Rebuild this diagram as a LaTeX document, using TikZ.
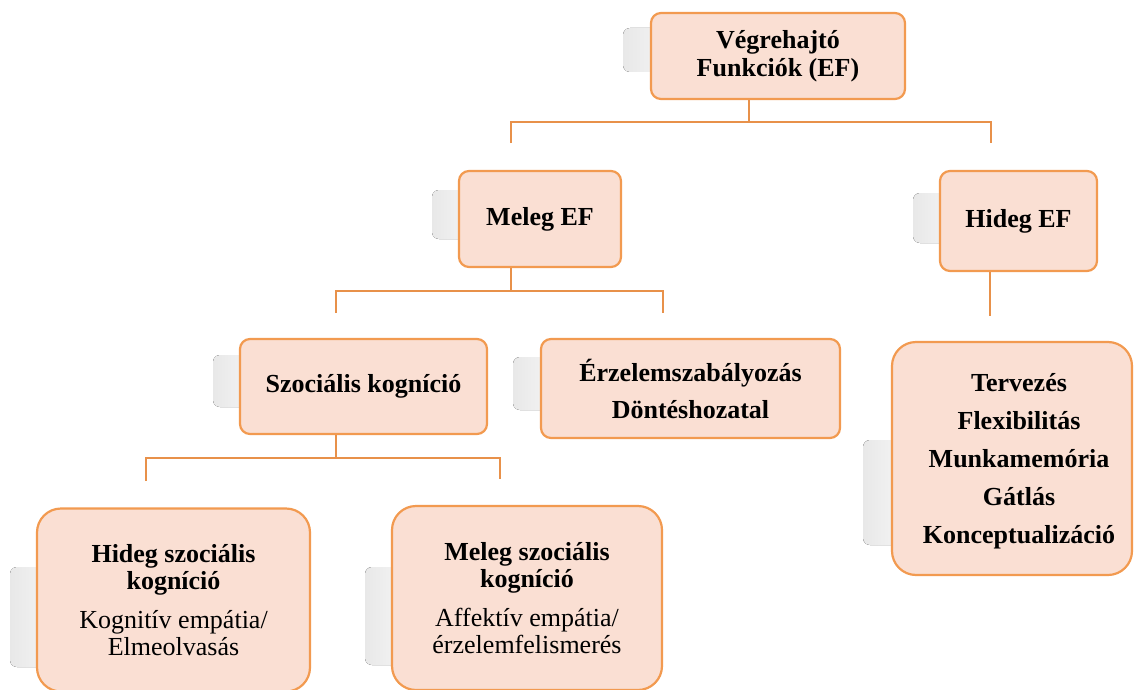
\documentclass[tikz,border=0pt]{standalone}
\usepackage{fontspec}
\setmainfont{Liberation Serif}
\definecolor{boxfill}{HTML}{FADFD3}
\definecolor{boxline}{HTML}{F29A50}
\definecolor{connc}{HTML}{E8914A}
\begin{document}
\begin{tikzpicture}[x=1pt,y=-1pt,
  box/.style={draw=boxline, line width=2.2pt, fill=boxfill, rounded corners=10pt,
    align=center, inner sep=0pt, font=\bfseries\fontsize{26}{29}\selectfont},
  bigbox/.style={box, rounded corners=24pt},
  ghost/.style={left color=black!9, right color=black!1, rounded corners=7pt},
  conn/.style={draw=connc, line width=2.6pt}]
\useasboundingbox (0,0) rectangle (1134,690);
\clip (0,0) rectangle (1134,690);

% ghost reflections
\fill[ghost] (623,28) rectangle (700,72);
\fill[ghost] (432,190) rectangle (500,239);
\fill[ghost] (913,193) rectangle (980,243);
\fill[ghost] (213,355) rectangle (280,407);
\fill[ghost] (513,357) rectangle (580,410);
\fill[ghost] (863,440) rectangle (930,545);
\fill[ghost] (10,567) rectangle (80,667);
\fill[ghost] (365,567) rectangle (430,665);

% boxes
\node[box, minimum width=254pt, minimum height=86pt, font=\bfseries\fontsize{26}{28}\selectfont]
  (top) at (778,56) {Végrehajtó\\Funkciók (EF)};
\node[box, minimum width=162pt, minimum height=96pt] (meleg) at (540,219) {Meleg EF};
\node[box, minimum width=157pt, minimum height=100pt] (hideg) at (1018.5,221) {Hideg EF};
\node[box, minimum width=247pt, minimum height=95pt] (szoc) at (363.5,386.5) {Szociális kogníció};
\node[box, minimum width=299pt, minimum height=99pt, font=\bfseries\fontsize{26}{37}\selectfont]
  (erz) at (690.5,388.5) {Érzelemszabályozás\\Döntéshozatal};
\node[bigbox, minimum width=240pt, minimum height=233pt] (hlist) at (1012,458.5) {};
\node[align=center, inner sep=0pt, font=\bfseries\fontsize{26}{38}\selectfont]
  (hlisttext) at (1019,461) {Tervezés\\Flexibilitás\\Munkamemória\\Gátlás\\Konceptualizáció};
\node[bigbox, minimum width=273pt, minimum height=183pt, font=\fontsize{26}{26.5}\selectfont]
  (hszoc) at (173.5,600) {\textbf{Hideg szociális}\\\textbf{kogníció}\\[13pt]\textmd{Kognitív empátia/}\\\textmd{Elmeolvasás}};
\node[bigbox, minimum width=270pt, minimum height=184pt, font=\fontsize{26}{26.5}\selectfont]
  (mszoc) at (527,598) {\textbf{Meleg szociális}\\\textbf{kogníció}\\[13pt]\textmd{Affektív empátia/}\\\textmd{érzelemfelismerés}};

% connectors
\coordinate (j1) at (749,122);
\coordinate (d1) at (511,143);
\coordinate (d2) at (991,143);
\draw[conn] (j1 |- top.south) -- (j1);
\draw[conn] (d1) |- (j1) -| (d2);

\coordinate (j2) at (511,291);
\coordinate (d3) at (336,313);
\coordinate (d4) at (663,313);
\draw[conn] (j2 |- meleg.south) -- (j2);
\draw[conn] (d3) |- (j2) -| (d4);

\coordinate (d5) at (990,316);
\draw[conn] (d5 |- hideg.south) -- (d5);

\coordinate (j3) at (336,458);
\coordinate (d6) at (146,481);
\coordinate (d7) at (500,479);
\draw[conn] (j3 |- szoc.south) -- (j3);
\draw[conn] (d6) |- (j3) -| (d7);
\end{tikzpicture}
\end{document}
